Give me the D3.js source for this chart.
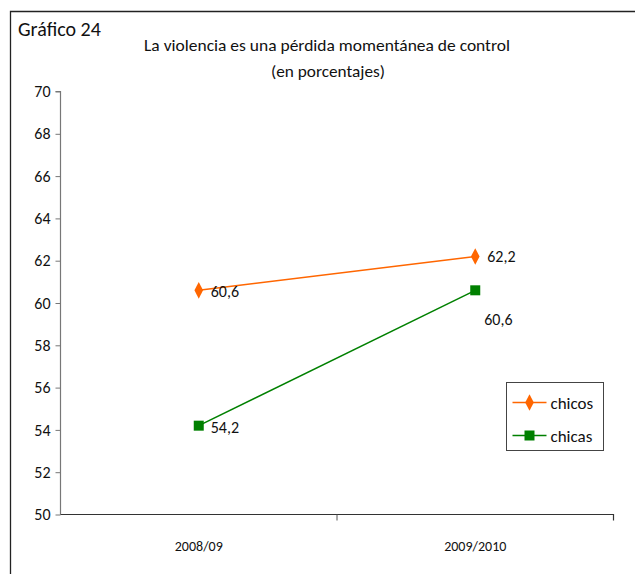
<!DOCTYPE html>
<html><head><meta charset="utf-8">
<script src="https://cdn.jsdelivr.net/npm/d3@7"></script>
<style>body{margin:0;background:#fff}svg{display:block}text{font-family:Carlito,"Liberation Sans Narrow",Roboto,sans-serif;fill:#111}</style>
</head><body>
<svg id="c" width="635" height="574"></svg>
<script>
const categories = ["2008/09", "2009/2010"];
const chicos = [60.6, 62.2];
const chicas = [54.2, 60.6];
const yTicks = [50, 52, 54, 56, 58, 60, 62, 64, 66, 68, 70];
const seriesNames = ["chicos", "chicas"];
const seriesColors = ["#FF6600", "#008000"];

const svg = d3.select("#c");
// outer frame
svg.append("path").attr("d", "M10.5,574 V11.5 H635").attr("fill", "none").attr("stroke", "#222").attr("stroke-width", 1.3);

svg.append("text").attr("x", 18).attr("y", 36).attr("font-size", 20).attr("font-weight", 300).attr("fill", "#222").text("Gráfico 24");
svg.append("text").attr("x", 327).attr("y", 51).attr("text-anchor", "middle").attr("font-size", 17).attr("textLength", 366).attr("lengthAdjust", "spacingAndGlyphs").text("La violencia es una pérdida momentánea de control");
svg.append("text").attr("x", 328).attr("y", 77).attr("text-anchor", "middle").attr("font-size", 17).attr("textLength", 114).attr("lengthAdjust", "spacingAndGlyphs").text("(en porcentajes)");

const x = d3.scaleBand().domain(categories).range([60.5, 613.5]);
const y = d3.scaleLinear().domain([50, 70]).range([514.5, 91.5]);

// y axis
const ya = svg.append("g").attr("transform", "translate(60.5,0)")
  .call(d3.axisLeft(y).tickValues(yTicks).tickSize(5).tickPadding(5).tickFormat(d3.format("d")));
ya.select(".domain").attr("stroke", "#777").attr("stroke-width", 1.2).attr("d", "M-5,91.5H0V514.5");
ya.selectAll(".tick line").attr("stroke", "#777");
ya.selectAll("text").attr("font-size", 16).attr("fill", "#111");

// x axis
const xa = svg.append("g").attr("transform", "translate(0,514.5)")
  .call(d3.axisBottom(x).tickSize(0).tickPadding(27));
xa.select(".domain").attr("stroke", "#333").attr("stroke-width", 1.2).attr("d", "M60.5,0H613.5V6");
xa.selectAll("text").attr("font-size", 14).attr("fill", "#111");
// tick between categories
svg.append("line").attr("x1", x(categories[1])).attr("x2", x(categories[1])).attr("y1", 514.5).attr("y2", 520.5).attr("stroke", "#555");

const cx = d => x(d) + x.bandwidth() / 2;
const line = d3.line().x((d, i) => cx(categories[i])).y(d => y(d));

const data = [chicos, chicas];
data.forEach((vals, s) => {
  svg.append("path").datum(vals).attr("d", line).attr("fill", "none").attr("stroke", seriesColors[s]).attr("stroke-width", 1.5);
});
// markers
const diamond = d3.symbol().type(d3.symbolDiamond).size(80);
svg.selectAll(".m0").data(chicos).enter().append("path")
  .attr("transform", (d, i) => `translate(${cx(categories[i])},${y(d)}) scale(0.9,1)`)
  .attr("d", diamond).attr("fill", seriesColors[0]);
svg.selectAll(".m1").data(chicas).enter().append("rect")
  .attr("x", (d, i) => cx(categories[i]) - 5).attr("y", d => y(d) - 5)
  .attr("width", 10).attr("height", 10).attr("fill", seriesColors[1]);

// labels
const fmt = v => String(v).replace(".", ",");
const lab = (xx, yy, t) => svg.append("text").attr("x", xx).attr("y", yy).attr("font-size", 16).text(t);
lab(cx(categories[0]) + 12, y(chicos[0]) + 7, fmt(chicos[0]));
lab(cx(categories[1]) + 12, y(chicos[1]) + 6, fmt(chicos[1]));
lab(cx(categories[0]) + 12, y(chicas[0]) + 7, fmt(chicas[0]));
lab(cx(categories[1]) + 9, y(chicas[1]) + 35, fmt(chicas[1]));

// legend
const lg = svg.append("g").attr("transform", "translate(506.5,382.5)");
lg.append("rect").attr("width", 97).attr("height", 68).attr("fill", "#fff").attr("stroke", "#444").attr("stroke-width", 1);
seriesNames.forEach((n, i) => {
  const yy = 20 + i * 33;
  lg.append("line").attr("x1", 6).attr("x2", 40).attr("y1", yy).attr("y2", yy).attr("stroke", seriesColors[i]).attr("stroke-width", 1.5);
  if (i === 0) lg.append("path").attr("transform", `translate(23,${yy}) scale(0.9,1)`).attr("d", diamond).attr("fill", seriesColors[0]);
  else lg.append("rect").attr("x", 18).attr("y", yy - 5).attr("width", 10).attr("height", 10).attr("fill", seriesColors[1]);
  lg.append("text").attr("x", 44).attr("y", yy + 6).attr("font-size", 17).text(n);
});
</script>
</body></html>
